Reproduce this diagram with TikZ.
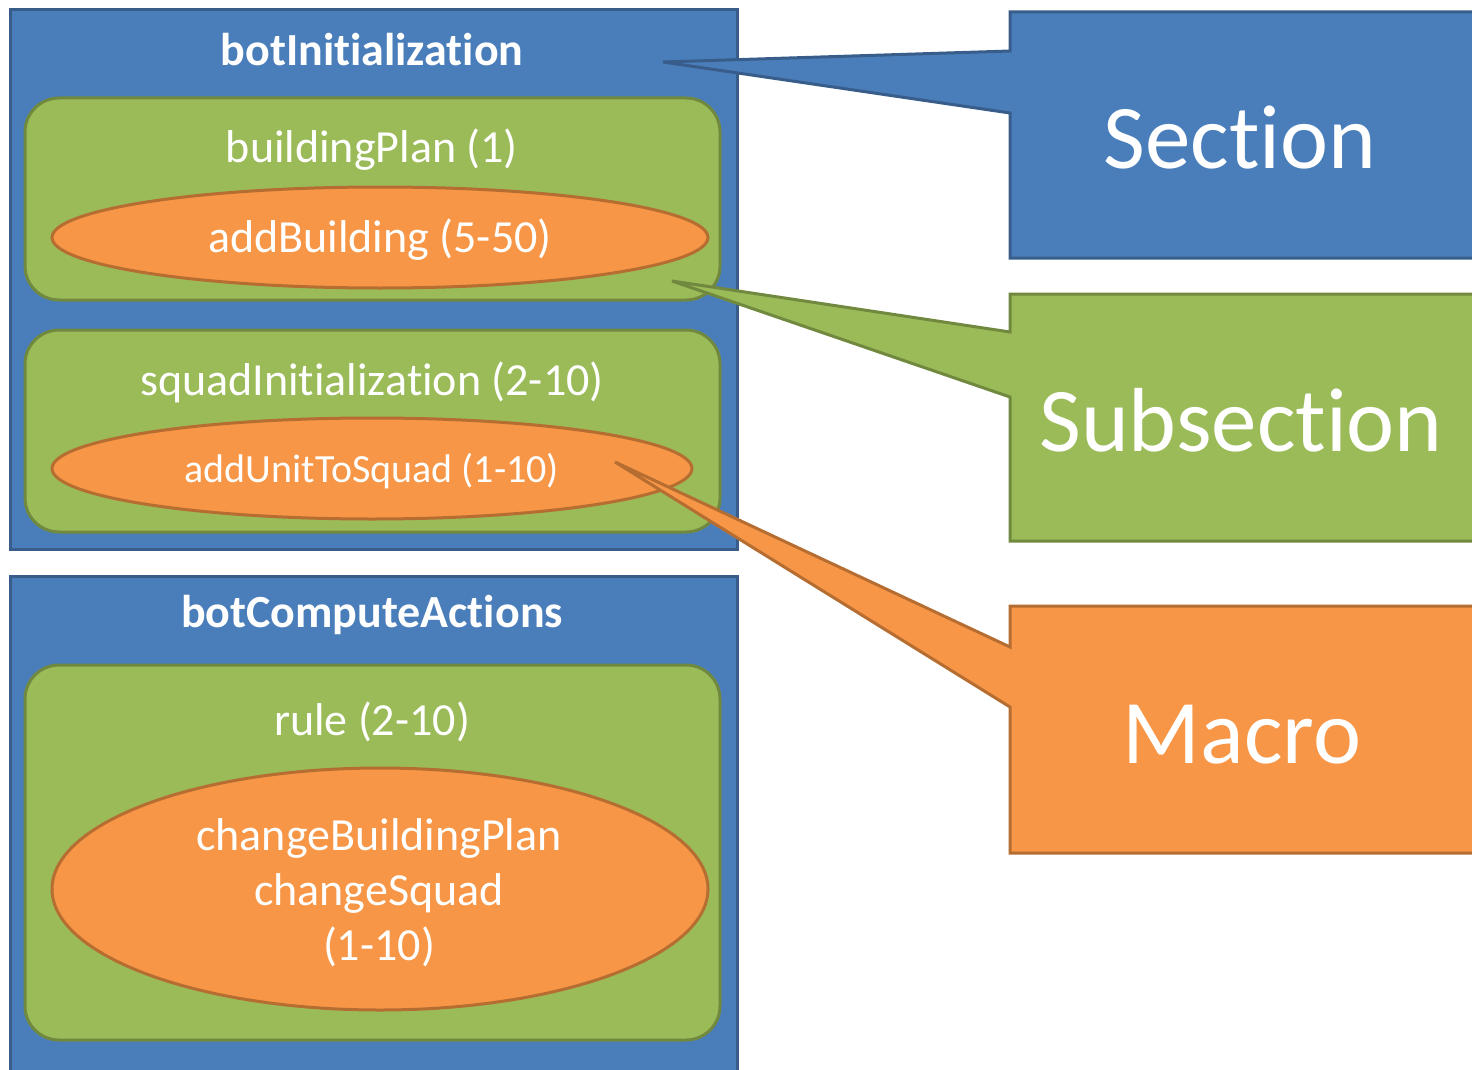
\documentclass[tikz,border=0pt]{standalone}
\usepackage{fontspec}
\setmainfont{Carlito}[Ligatures=NoCommon]
\usetikzlibrary{shapes.geometric}
\definecolor{secfill}{HTML}{4A7EBB}
\definecolor{secline}{HTML}{385D8A}
\definecolor{subfill}{HTML}{9BBB59}
\definecolor{subline}{HTML}{71893F}
\definecolor{macfill}{HTML}{F79646}
\definecolor{macline}{HTML}{B66D31}
\begin{document}
\begin{tikzpicture}[x=0.5pt,y=-0.5pt,line width=1.5pt,
  secbox/.style={draw=secline,fill=secfill,rectangle,inner sep=0pt},
  subbox/.style={draw=subline,fill=subfill,rectangle,rounded corners=17pt,inner sep=0pt},
  macell/.style={draw=macline,fill=macfill,ellipse,inner sep=0pt},
  lbl/.style={text=white,inner sep=0pt,align=center,font=\fontsize{23}{27.5}\selectfont},
  ttl/.style={text=white,inner sep=0pt,font=\fontsize{23}{27.5}\selectfont\bfseries},
  big/.style={text=white,inner sep=0pt,font=\fontsize{45.5}{50}\selectfont},
  callsec/.style={draw=secline,fill=secfill,line join=miter},
  callsub/.style={draw=subline,fill=subfill,line join=miter},
  callmac/.style={draw=macline,fill=macfill,line join=miter}]
\useasboundingbox (0,0) rectangle (1472,1070);
\clip (0,0) rectangle (1472,1070);

% sections
\node[secbox,minimum width=363.5pt,minimum height=269.5pt] (secA) at (373.5,279.5) {};
\node[secbox,minimum width=363.5pt,minimum height=252pt] (secB) at (373.5,828) {};
\node[ttl] (secAt) at (372,50) {botInitialization};
\node[ttl] (secBt) at (372,615) {botComputeActions};

% subsections
\node[subbox,minimum width=347.5pt,minimum height=101pt] (subA) at (372.5,199) {};
\node[subbox,minimum width=347.5pt,minimum height=101pt] (subB) at (372.5,431) {};
\node[subbox,minimum width=347.5pt,minimum height=187.5pt] (subC) at (372.5,852.5) {};
\node[lbl] (subAt) at (372,150) {buildingPlan (1)};
\node[lbl] (subBt) at (372,382) {squadInitialization (2-10)};
\node[lbl] (subCt) at (372,722) {rule (2-10)};

% macros
\node[macell,minimum width=328pt,minimum height=50.5pt] (macA) at (380,237.5) {};
\node[macell,minimum width=320pt,minimum height=50.5pt] (macB) at (372,468.5) {};
\node[macell,minimum width=328pt,minimum height=121pt] (macC) at (380,889) {};
\node[lbl] (macAt) at (380,240) {addBuilding (5-50)};
\node[lbl,font=\fontsize{20}{24}\selectfont] (macBt) at (372,471) {addUnitToSquad (1-10)};
\node[lbl] (macCt) at (379,893) {changeBuildingPlan\\changeSquad\\(1-10)};

% callouts
\coordinate (secTip) at (663,62);
\coordinate (subTip) at (672,281);
\coordinate (macTip) at (615,462);
\draw[callsec] (1010,12) -- (1500,12) -- (1500,258) -- (1010,258) -- (1010,113) -- (secTip) -- (1010,51) -- cycle;
\draw[callsub] (1010,294) -- (1500,294) -- (1500,541) -- (1010,541) -- (1010,397) -- (subTip) -- (1010,332) -- cycle;
\draw[callmac] (1010,606) -- (1500,606) -- (1500,853) -- (1010,853) -- (1010,707) -- (macTip) -- (1010,647) -- cycle;
\node[big] (secL) at (1240,138) {Section};
\node[big] (subL) at (1241,420) {Subsection};
\node[big] (macL) at (1242,735) {Macro};
\end{tikzpicture}
\end{document}
